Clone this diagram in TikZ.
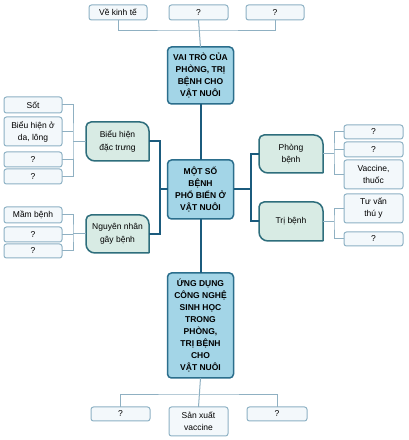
\documentclass[tikz,border=0pt]{standalone}
\usepackage{fontspec}
\setmainfont{Liberation Sans}
\definecolor{mainfill}{HTML}{A3D5E7}
\definecolor{mainline}{HTML}{2B6E8C}
\definecolor{brfill}{HTML}{D8EBE4}
\definecolor{brline}{HTML}{2E6E7C}
\definecolor{leaffill}{HTML}{F3F8FB}
\definecolor{leafline}{HTML}{8DB1C4}
\definecolor{thinline}{HTML}{8FB0C2}
\definecolor{thickline}{HTML}{1B5B7D}
\tikzset{
  mainbox/.style={draw=mainline, fill=mainfill, line width=1.5pt, rounded corners=4pt,
    minimum width=66pt, inner sep=0pt, outer sep=0pt, align=center,
    font=\fontsize{8.5}{12}\selectfont\bfseries},
  brbox/.style={minimum width=63pt, inner sep=0pt, outer sep=0pt, align=center,
    font=\fontsize{8.5}{12.5}\selectfont},
  leaf/.style={draw=leafline, fill=leaffill, line width=1pt, rounded corners=2.5pt,
    minimum width=58pt, inner sep=0pt, outer sep=0pt, align=center,
    font=\fontsize{8.5}{12}\selectfont},
  thinc/.style={draw=thinline, line width=1pt},
  thickc/.style={draw=thickline, line width=2pt},
  brborder/.style={draw=brline, fill=brfill, line width=1.5pt}
}
\newcommand\brshape[1]{%
  \path[brborder] ([xshift=5pt]#1.north west) -- ([xshift=-9pt]#1.north east)
    arc[start angle=90,end angle=0,radius=9pt] -- ([yshift=0.5pt]#1.south east)
    arc[start angle=0,end angle=-90,radius=0.5pt] -- ([xshift=9pt]#1.south west)
    arc[start angle=-90,end angle=-180,radius=9pt] -- ([yshift=-5pt]#1.north west)
    arc[start angle=180,end angle=90,radius=5pt] -- cycle;}
\begin{document}
\begin{tikzpicture}[x=1pt,y=1pt]
\useasboundingbox[fill=white] (0,0) rectangle (408,440);
% main boxes
\node[mainbox, minimum height=57pt] (vai) at (200.5,364.5) {VAI TRÒ CỦA\\PHÒNG, TRỊ\\BỆNH CHO\\VẬT NUÔI};
\node[mainbox, minimum height=59pt] (ctr) at (200.5,250.5) {MỘT SỐ\\BỆNH\\PHỔ BIẾN Ở\\VẬT NUÔI};
\node[mainbox, minimum height=105pt] (ud) at (200.5,114.5) {ỨNG DỤNG\\CÔNG NGHỆ\\SINH HỌC\\TRONG\\PHÒNG,\\TRỊ BỆNH\\CHO\\VẬT NUÔI};
% top leaves
\node[leaf, minimum height=15pt] (t1) at (118,427.5) {Về kinh tế};
\node[leaf, minimum height=15pt, minimum width=59pt] (t2) at (198.5,427.5) {?};
\node[leaf, minimum height=15pt] (t3) at (275,427.5) {?};
% bottom leaves
\node[leaf, minimum height=14pt, minimum width=59pt] (b1) at (120.5,26) {?};
\node[leaf, minimum height=29pt, minimum width=59pt] (b2) at (198.5,18.5) {Sản xuất\\vaccine};
\node[leaf, minimum height=14pt, minimum width=60pt] (b3) at (277,26) {?};
% left branches
\node[brbox, minimum height=39pt] (bl1) at (117.5,298.5) {};
\brshape{bl1}
\node[brbox] at (bl1) {Biểu hiện\\đặc trưng};
\node[brbox, minimum height=38pt] (bl2) at (117.5,206) {};
\brshape{bl2}
\node[brbox] at (bl2) {Nguyên nhân\\gây bệnh};
% right branches
\node[brbox, minimum width=64pt, minimum height=38pt] (br1) at (291,286) {};
\brshape{br1}
\node[brbox] at (br1) {Phòng\\bệnh};
\node[brbox, minimum width=64pt, minimum height=39pt] (br2) at (291,218.5) {};
\brshape{br2}
\node[brbox] at (br2) {Trị bệnh};
% left leaves
\node[leaf, minimum height=16pt] (l1) at (33,335) {Sốt};
\node[leaf, minimum height=29pt] (l2) at (33,308.5) {Biểu hiện ở\\da, lông};
\node[leaf, minimum height=15pt] (l3) at (33,280.5) {?};
\node[leaf, minimum height=15pt] (l4) at (33,263.5) {?};
\node[leaf, minimum height=16pt] (l5) at (33,225) {Mầm bệnh};
\node[leaf, minimum height=15pt] (l6) at (33,205.5) {?};
\node[leaf, minimum height=14pt] (l7) at (33,189) {?};
% right leaves
\node[leaf, minimum height=14pt, minimum width=59pt] (r1) at (373.5,308) {?};
\node[leaf, minimum height=15pt, minimum width=59pt] (r2) at (373.5,290.5) {?};
\node[leaf, minimum height=29pt, minimum width=59pt] (r3) at (373.5,265.5) {Vaccine,\\thuốc};
\node[leaf, minimum height=29pt, minimum width=59pt] (r4) at (373.5,231.5) {Tư vấn\\thú y};
\node[leaf, minimum height=14pt, minimum width=59pt] (r5) at (373.5,201) {?};
% junction coordinates
\coordinate (tj) at (198.5,409);
\coordinate (bj) at (198.5,45);
\coordinate (jl) at (160,250.5);
\coordinate (jr) at (251,250.5);
\coordinate (jl1) at (73,298.5);
\coordinate (jl2) at (73,206);
\coordinate (jr1) at (334,286);
\coordinate (jr2) at (334,218.5);
% connectors
\draw[thinc] (t1.south) |- (tj) -| (t3.south);
\draw[thinc] (t2.south) -- (vai.north);
\draw[thinc] (b1.north) |- (bj) -| (b3.north);
\draw[thinc] (ud.south) -- (b2.north);
\draw[thickc] (vai.south) -- (ctr.north);
\draw[thickc] (ctr.south) -- (ud.north);
\draw[thickc] (bl1.east) -| (jl) |- (bl2.east);
\draw[thickc] (jl) -- (ctr.west);
\draw[thickc] (br1.west) -| (jr) |- (br2.west);
\draw[thickc] (jr) -- (ctr.east);
\draw[thinc] (l1.east) -| (jl1) |- (l4.east);
\draw[thinc] (l2.east) -- (l2.east -| jl1);
\draw[thinc] (l3.east) -- (l3.east -| jl1);
\draw[thinc] (jl1) -- (bl1.west);
\draw[thinc] (l5.east) -| (jl2) |- (l7.east);
\draw[thinc] (l6.east) -- (l6.east -| jl2);
\draw[thinc] (jl2) -- (bl2.west);
\draw[thinc] (r1.west) -| (jr1) |- (r3.west);
\draw[thinc] (r2.west) -- (r2.west -| jr1);
\draw[thinc] (jr1) -- (br1.east);
\draw[thinc] (r4.west) -| (jr2) |- (r5.west);
\draw[thinc] (jr2) -- (br2.east);
\end{tikzpicture}
\end{document}
